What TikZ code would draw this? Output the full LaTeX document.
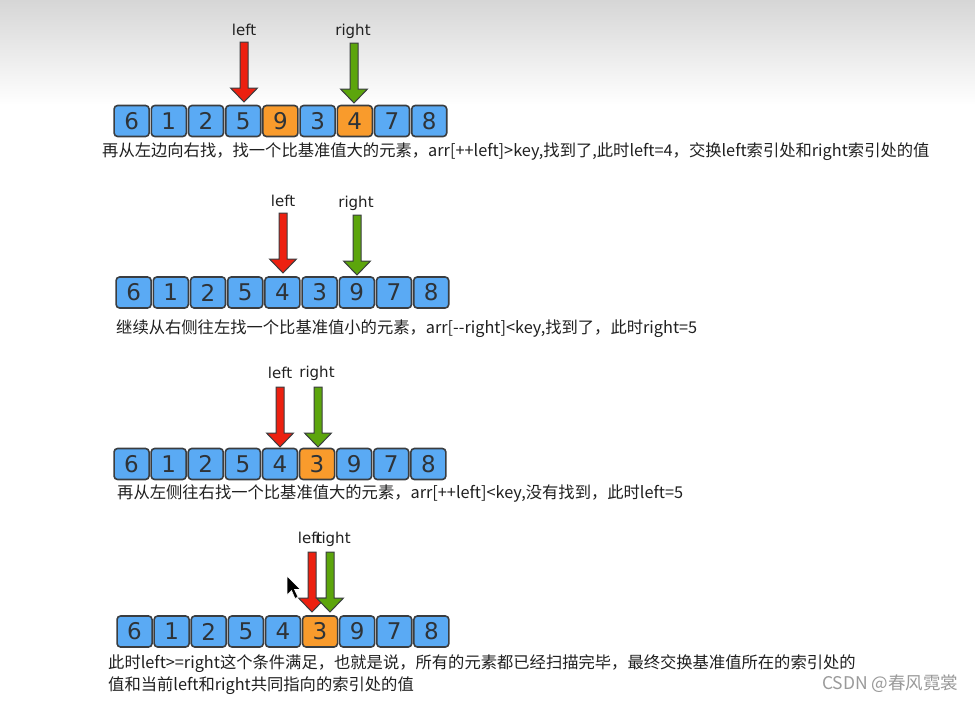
\documentclass[tikz,border=0pt]{standalone}
\usepackage{fontspec}
\setmainfont{DejaVu Sans}
\newfontfamily\cjk{Noto Sans CJK SC}
\definecolor{boxblue}{HTML}{5AAAF4}
\definecolor{boxorange}{HTML}{F99B2C}
\definecolor{boxline}{HTML}{3A3D40}
\definecolor{ptrred}{HTML}{EC2010}
\definecolor{ptrgreen}{HTML}{5CA50C}
\definecolor{txt}{HTML}{202020}
\definecolor{digit}{HTML}{2E3338}
\definecolor{topgray}{HTML}{D6D6D6}
\definecolor{wmgray}{HTML}{9A9A9A}
\begin{document}
\begin{tikzpicture}[x=1pt,y=-1pt,
  cell/.style={draw=boxline, line width=1.6pt, rounded corners=3.5pt,
    minimum width=35pt, minimum height=31pt, inner sep=0pt,
    font=\fontsize{23}{23}\selectfont, text=digit},
  lbl/.style={font=\fontsize{15}{15}\selectfont, text=txt, inner sep=0pt},
  desc/.style={font=\cjk\fontsize{16.3}{22}\selectfont, text=txt, inner sep=0pt, anchor=west, align=left},
  pics/ptr/.style={code={
    \filldraw[fill=#1, draw=boxline, line width=1pt, line join=miter]
      (-4,0) -- (4,0) -- (4,46) -- (13.5,46) -- (0,60) -- (-13.5,46) -- (-4,46) -- cycle;}}
]
\useasboundingbox (0,0) rectangle (975,702);
\fill[white] (0,0) rectangle (975,702);
\shade[top color=topgray, bottom color=white] (0,0) rectangle (975,105);

% ---------- row 1 ----------
\foreach \v/\c [count=\i] in {6/boxblue,1/boxblue,2/boxblue,5/boxblue,9/boxorange,3/boxblue,4/boxorange,7/boxblue,8/boxblue}
  \node[cell, fill=\c] (a\i) at ({113+37.2*(\i-0.5)},121) {\v};
\node[lbl] (al) at (244,30) {left};
\node[lbl] (ar) at (353,31) {right};
\pic at (244,42) {ptr=ptrred};
\pic at (354,43) {ptr=ptrgreen};
\begin{scope}
\clip (0,138) rectangle (932,168);
\node[desc] (ta) at (102,152) {再从左边向右找，找一个比基准值大的元素，arr[++left]>key,找到了,此时left=4，交换left索引处和right索引处的值};
\end{scope}

% ---------- row 2 ----------
\foreach \v/\c [count=\i] in {6/boxblue,1/boxblue,2/boxblue,5/boxblue,4/boxblue,3/boxblue,9/boxblue,7/boxblue,8/boxblue}
  \node[cell, fill=\c] (b\i) at ({115+37.2*(\i-0.5)},292.5) {\v};
\node[lbl] (bl) at (283,201) {left};
\node[lbl] (br) at (356,203) {right};
\pic at (283,213) {ptr=ptrred};
\pic at (357,215) {ptr=ptrgreen};
\node[desc] (tb) at (116,329) {继续从右侧往左找一个比基准值小的元素，arr[{-}{-}right]<key,找到了，此时right=5};

% ---------- row 3 ----------
\foreach \v/\c [count=\i] in {6/boxblue,1/boxblue,2/boxblue,5/boxblue,4/boxblue,3/boxorange,9/boxblue,7/boxblue,8/boxblue}
  \node[cell, fill=\c] (c\i) at ({113+37.1*(\i-0.5)},464) {\v};
\node[lbl] (cl) at (280,373) {left};
\node[lbl] (cr) at (317,373) {right};
\pic at (280,387) {ptr=ptrred};
\pic at (318,387) {ptr=ptrgreen};
\node[desc] (tc) at (117,494) {再从左侧往右找一个比基准值大的元素，arr[++left]<key,没有找到，此时left=5};

% ---------- row 4 ----------
\foreach \v/\c [count=\i] in {6/boxblue,1/boxblue,2/boxblue,5/boxblue,4/boxblue,3/boxorange,9/boxblue,7/boxblue,8/boxblue}
  \node[cell, fill=\c] (d\i) at ({116+37.1*(\i-0.5)},631.5) {\v};
\node[lbl] (dl) at (310,538) {left};
\node[lbl] (dr) at (333,539) {right};
\pic at (312,552) {ptr=ptrred};
\pic at (330,552) {ptr=ptrgreen};
\node[desc] (td) at (108,674.5) {此时left>=right这个条件满足，也就是说，所有的元素都已经扫描完毕，最终交换基准值所在的索引处的\\值和当前left和right共同指向的索引处的值};

% mouse cursor
\filldraw[fill=black, draw=white, line width=0.6pt, line join=miter]
  (287,576) -- (287,595) -- (291.5,590.5) -- (295,598.5) -- (298,597) -- (294.5,589.5) -- (300.5,589.5) -- cycle;

% watermark
\node[font=\cjk\fontsize{17.5}{17.5}\selectfont, text=wmgray, inner sep=0pt, anchor=west] (wm) at (822,684) {CSDN @春风霓裳};
\end{tikzpicture}
\end{document}
